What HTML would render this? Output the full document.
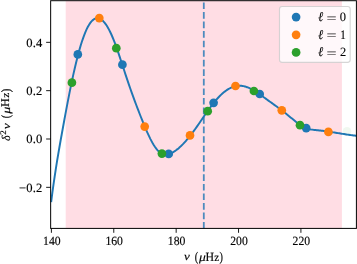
<!DOCTYPE html>
<html><head><meta charset="utf-8"><title>plot</title>
<style>
html,body{margin:0;padding:0;background:#fff;overflow:hidden;}
svg{display:block;}
text{font-family:"Liberation Serif","DejaVu Serif",serif;fill:#000;text-rendering:geometricPrecision;}
.tk{font-size:12.6px;stroke:#000;stroke-width:0.15px;}
.ty{letter-spacing:0.2px;}
.lb{font-size:11.5px;}
.lg{font-size:13.2px;stroke:#000;stroke-width:0.2px;}
.it{font-style:italic;}
</style></head><body>
<svg width="357" height="264" viewBox="0 0 357 264">
<rect x="0" y="0" width="357" height="264" fill="#fff"/>
<rect x="65.7" y="0.7" width="276.2" height="227.70000000000002" fill="#ffdde4"/>
<clipPath id="c"><rect x="50.65" y="0.7" width="305.75" height="227.70000000000002"/></clipPath>
<g clip-path="url(#c)">
<circle cx="347.0" cy="131.4" r="4.35" fill="#2ca02c" fill-opacity="0.07"/>
<path d="M51.15,202.09 L52.33,192.98 L53.51,184.39 L54.69,176.27 L55.87,168.54 L57.05,161.17 L58.24,154.08 L59.42,147.23 L60.60,140.54 L61.78,133.97 L62.96,127.46 L64.14,121.01 L65.32,114.63 L66.50,108.33 L67.68,102.15 L68.86,96.09 L70.04,90.16 L71.23,84.39 L72.41,78.80 L73.59,73.39 L74.77,68.18 L75.95,63.19 L77.13,58.43 L78.31,53.91 L79.49,49.63 L80.67,45.60 L81.85,41.83 L83.03,38.32 L84.21,35.07 L85.40,32.11 L86.58,29.42 L87.76,27.03 L88.94,24.93 L90.12,23.13 L91.30,21.62 L92.48,20.38 L93.66,19.43 L94.84,18.74 L96.02,18.32 L97.20,18.16 L98.39,18.25 L99.57,18.60 L100.75,19.18 L101.93,20.00 L103.11,21.06 L104.29,22.34 L105.47,23.84 L106.65,25.57 L107.83,27.50 L109.01,29.64 L110.19,31.98 L111.38,34.51 L112.56,37.24 L113.74,40.14 L114.92,43.21 L116.10,46.41 L117.28,49.73 L118.46,53.15 L119.64,56.65 L120.82,60.20 L122.00,63.79 L123.18,67.40 L124.37,71.01 L125.55,74.60 L126.73,78.14 L127.91,81.63 L129.09,85.08 L130.27,88.47 L131.45,91.82 L132.63,95.13 L133.81,98.38 L134.99,101.60 L136.17,104.76 L137.35,107.89 L138.54,110.97 L139.72,114.01 L140.90,117.01 L142.08,119.98 L143.26,122.89 L144.44,125.76 L145.62,128.56 L146.80,131.28 L147.98,133.91 L149.16,136.43 L150.34,138.84 L151.53,141.11 L152.71,143.25 L153.89,145.22 L155.07,147.02 L156.25,148.64 L157.43,150.07 L158.61,151.28 L159.79,152.29 L160.97,153.09 L162.15,153.71 L163.33,154.15 L164.52,154.41 L165.70,154.52 L166.88,154.48 L168.06,154.31 L169.24,154.00 L170.42,153.58 L171.60,153.05 L172.78,152.42 L173.96,151.71 L175.14,150.92 L176.32,150.06 L177.51,149.14 L178.69,148.15 L179.87,147.10 L181.05,146.00 L182.23,144.84 L183.41,143.63 L184.59,142.36 L185.77,141.04 L186.95,139.68 L188.13,138.27 L189.31,136.82 L190.49,135.33 L191.68,133.80 L192.86,132.23 L194.04,130.63 L195.22,129.00 L196.40,127.33 L197.58,125.65 L198.76,123.94 L199.94,122.22 L201.12,120.49 L202.30,118.76 L203.48,117.03 L204.67,115.31 L205.85,113.59 L207.03,111.90 L208.21,110.22 L209.39,108.58 L210.57,106.96 L211.75,105.39 L212.93,103.85 L214.11,102.37 L215.29,100.93 L216.47,99.56 L217.66,98.24 L218.84,96.98 L220.02,95.78 L221.20,94.65 L222.38,93.57 L223.56,92.56 L224.74,91.61 L225.92,90.73 L227.10,89.92 L228.28,89.18 L229.46,88.50 L230.64,87.89 L231.83,87.36 L233.01,86.90 L234.19,86.51 L235.37,86.19 L236.55,85.96 L237.73,85.79 L238.91,85.71 L240.09,85.71 L241.27,85.78 L242.45,85.93 L243.63,86.15 L244.82,86.44 L246.00,86.80 L247.18,87.21 L248.36,87.68 L249.54,88.21 L250.72,88.78 L251.90,89.40 L253.08,90.05 L254.26,90.75 L255.44,91.48 L256.62,92.24 L257.81,93.02 L258.99,93.82 L260.17,94.65 L261.35,95.48 L262.53,96.33 L263.71,97.18 L264.89,98.03 L266.07,98.88 L267.25,99.74 L268.43,100.59 L269.61,101.44 L270.80,102.29 L271.98,103.14 L273.16,104.00 L274.34,104.86 L275.52,105.72 L276.70,106.59 L277.88,107.46 L279.06,108.34 L280.24,109.22 L281.42,110.12 L282.60,111.02 L283.78,111.93 L284.97,112.85 L286.15,113.78 L287.33,114.73 L288.51,115.68 L289.69,116.65 L290.87,117.63 L292.05,118.62 L293.23,119.61 L294.41,120.59 L295.59,121.56 L296.77,122.50 L297.96,123.41 L299.14,124.27 L300.32,125.09 L301.50,125.85 L302.68,126.54 L303.86,127.16 L305.04,127.70 L306.22,128.17 L307.40,128.56 L308.58,128.90 L309.76,129.18 L310.95,129.42 L312.13,129.61 L313.31,129.78 L314.49,129.92 L315.67,130.05 L316.85,130.17 L318.03,130.29 L319.21,130.42 L320.39,130.56 L321.57,130.70 L322.75,130.84 L323.94,131.00 L325.12,131.15 L326.30,131.32 L327.48,131.48 L328.66,131.66 L329.84,131.83 L331.02,132.01 L332.20,132.19 L333.38,132.37 L334.56,132.56 L335.74,132.74 L336.92,132.93 L338.11,133.12 L339.29,133.31 L340.47,133.50 L341.65,133.68 L342.83,133.87 L344.01,134.05 L345.19,134.24 L346.37,134.42 L347.55,134.60 L348.73,134.77 L349.91,134.94 L351.10,135.11 L352.28,135.27 L353.46,135.43 L354.64,135.58 L355.82,135.73 L357.00,135.87" fill="none" stroke="#1f77b4" stroke-width="1.95" stroke-linejoin="round"/>
<line x1="203.8" x2="203.8" y1="228.4" y2="0.7" stroke="#1f77b4" stroke-opacity="0.8" stroke-width="1.8" stroke-dasharray="6.66 2.89" stroke-dashoffset="0.35"/>
<circle cx="77.8" cy="54.4" r="4.35" fill="#1f77b4"/>
<circle cx="122.4" cy="64.7" r="4.35" fill="#1f77b4"/>
<circle cx="168.7" cy="153.9" r="4.35" fill="#1f77b4"/>
<circle cx="213.6" cy="102.8" r="4.35" fill="#1f77b4"/>
<circle cx="259.7" cy="94" r="4.35" fill="#1f77b4"/>
<circle cx="306.2" cy="128.1" r="4.35" fill="#1f77b4"/>
<circle cx="99.3" cy="18.1" r="4.35" fill="#ff7f0e"/>
<circle cx="144.7" cy="126.6" r="4.35" fill="#ff7f0e"/>
<circle cx="190" cy="135.4" r="4.35" fill="#ff7f0e"/>
<circle cx="235.5" cy="86" r="4.35" fill="#ff7f0e"/>
<circle cx="281.8" cy="110.3" r="4.35" fill="#ff7f0e"/>
<circle cx="328.4" cy="131.9" r="4.35" fill="#ff7f0e"/>
<circle cx="71.9" cy="82.7" r="4.35" fill="#2ca02c"/>
<circle cx="116.3" cy="48.2" r="4.35" fill="#2ca02c"/>
<circle cx="161.9" cy="153.6" r="4.35" fill="#2ca02c"/>
<circle cx="207.7" cy="111.2" r="4.35" fill="#2ca02c"/>
<circle cx="253.9" cy="91" r="4.35" fill="#2ca02c"/>
<circle cx="300" cy="125.2" r="4.35" fill="#2ca02c"/>
</g>
<rect x="50.65" y="0.7" width="305.75" height="227.70000000000002" fill="none" stroke="#000" stroke-width="1.0"/>
<line x1="51.40" x2="51.40" y1="228.4" y2="232.8" stroke="#000" stroke-width="0.9"/>
<text transform="translate(51.80,245.4) scale(0.93,1)" text-anchor="middle" class="tk">140</text>
<line x1="113.78" x2="113.78" y1="228.4" y2="232.8" stroke="#000" stroke-width="0.9"/>
<text transform="translate(114.18,245.4) scale(0.93,1)" text-anchor="middle" class="tk">160</text>
<line x1="176.16" x2="176.16" y1="228.4" y2="232.8" stroke="#000" stroke-width="0.9"/>
<text transform="translate(176.56,245.4) scale(0.93,1)" text-anchor="middle" class="tk">180</text>
<line x1="238.54" x2="238.54" y1="228.4" y2="232.8" stroke="#000" stroke-width="0.9"/>
<text transform="translate(238.94,245.4) scale(0.93,1)" text-anchor="middle" class="tk">200</text>
<line x1="300.92" x2="300.92" y1="228.4" y2="232.8" stroke="#000" stroke-width="0.9"/>
<text transform="translate(301.32,245.4) scale(0.93,1)" text-anchor="middle" class="tk">220</text>
<line x1="46.15" x2="50.65" y1="42.34" y2="42.34" stroke="#000" stroke-width="0.9"/>
<text x="42.6" y="46.54" text-anchor="end" class="tk ty">0.4</text>
<line x1="46.15" x2="50.65" y1="90.67" y2="90.67" stroke="#000" stroke-width="0.9"/>
<text x="42.6" y="94.87" text-anchor="end" class="tk ty">0.2</text>
<line x1="46.15" x2="50.65" y1="139.00" y2="139.00" stroke="#000" stroke-width="0.9"/>
<text x="42.6" y="143.20" text-anchor="end" class="tk ty">0.0</text>
<line x1="46.15" x2="50.65" y1="187.33" y2="187.33" stroke="#000" stroke-width="0.9"/>
<text x="42.6" y="191.53" text-anchor="end" class="tk ty">−0.2</text>

<text transform="translate(184.04,260.39) scale(0.6579,0.5703)" font-size="20px" font-style="italic" stroke="#000" stroke-width="0.24">ν</text>
<text transform="translate(194.78,260.69) scale(0.5254,0.6660)" font-size="20px" stroke="#000" stroke-width="0.25">(</text>
<text transform="translate(198.91,260.62) scale(0.6765,0.5893)" font-size="20px" font-style="italic" stroke="#000" stroke-width="0.24">μ</text>
<text transform="translate(205.55,260.50) scale(0.5906,0.6256)" font-size="20px" stroke="#000" stroke-width="0.25">H</text>
<text transform="translate(214.20,260.50) scale(0.5499,0.5622)" font-size="20px" stroke="#000" stroke-width="0.27">z</text>
<text transform="translate(219.60,260.69) scale(0.5153,0.6660)" font-size="20px" stroke="#000" stroke-width="0.25">)</text>
<g transform="translate(9.4,114.3) rotate(-90)"><text transform="translate(-26.34,0.57) scale(0.5663,0.5929)" font-size="20px" font-style="italic" stroke="#000" stroke-width="0.26">δ</text>
<text transform="translate(-20.55,-3.60) scale(0.4429,0.4294)" font-size="20px" stroke="#000" stroke-width="0.34">2</text>
<text transform="translate(-15.04,0.47) scale(0.6865,0.5466)" font-size="20px" font-style="italic" stroke="#000" stroke-width="0.24">ν</text>
<text transform="translate(-3.83,0.18) scale(0.5482,0.6382)" font-size="20px" stroke="#000" stroke-width="0.25">(</text>
<text transform="translate(0.48,0.11) scale(0.7060,0.5647)" font-size="20px" font-style="italic" stroke="#000" stroke-width="0.24">μ</text>
<text transform="translate(7.41,0.00) scale(0.6162,0.5996)" font-size="20px" stroke="#000" stroke-width="0.25">H</text>
<text transform="translate(16.43,0.00) scale(0.5738,0.5387)" font-size="20px" stroke="#000" stroke-width="0.27">z</text>
<text transform="translate(22.07,0.18) scale(0.5377,0.6382)" font-size="20px" stroke="#000" stroke-width="0.26">)</text></g>
<rect x="279.5" y="6.5" width="70.7" height="55.9" rx="2.6" fill="#fff" fill-opacity="0.8" stroke="#ccc" stroke-opacity="0.8" stroke-width="1.1"/>
<circle cx="296.1" cy="17.1" r="4.35" fill="#1f77b4"/>
<circle cx="296.1" cy="34.8" r="4.35" fill="#ff7f0e"/>
<circle cx="296.1" cy="52.4" r="4.35" fill="#2ca02c"/>
<text transform="translate(317.89,20.92) scale(0.6202,0.6639)" font-size="20px" font-style="italic" stroke="#000" stroke-width="0.12">ℓ</text>
<text transform="translate(326.49,21.64) scale(0.8938,0.5850)" font-size="20px" stroke="#000" stroke-width="0.11">=</text>
<text transform="translate(339.86,21.05) scale(0.6265,0.6370)" font-size="20px" stroke="#000" stroke-width="0.13">0</text>
<text transform="translate(317.89,38.52) scale(0.6202,0.6639)" font-size="20px" font-style="italic" stroke="#000" stroke-width="0.12">ℓ</text>
<text transform="translate(326.49,39.24) scale(0.8938,0.5850)" font-size="20px" stroke="#000" stroke-width="0.11">=</text>
<text transform="translate(339.89,38.50) scale(0.5964,0.6355)" font-size="20px" stroke="#000" stroke-width="0.13">1</text>
<text transform="translate(317.89,56.12) scale(0.6202,0.6639)" font-size="20px" font-style="italic" stroke="#000" stroke-width="0.12">ℓ</text>
<text transform="translate(326.49,56.84) scale(0.8938,0.5850)" font-size="20px" stroke="#000" stroke-width="0.11">=</text>
<text transform="translate(339.94,56.10) scale(0.6234,0.6307)" font-size="20px" stroke="#000" stroke-width="0.13">2</text>
</svg>
</body></html>
